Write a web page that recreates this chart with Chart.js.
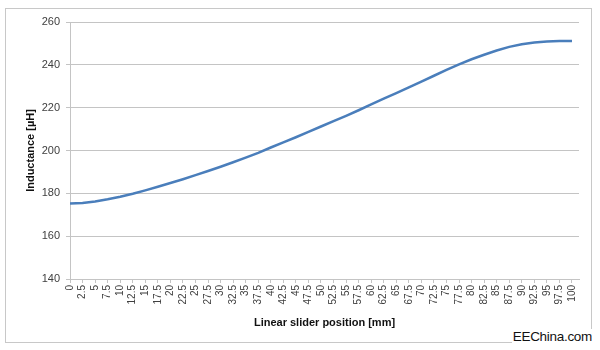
<!DOCTYPE html>
<html lang="en">
<head>
  <meta charset="UTF-8" />
  <title>Inductance vs slider position</title>
  <script src="https://cdn.jsdelivr.net/npm/chart.js"></script>
  <style>
    html, body { margin: 0; padding: 0; background: #fff; }
    #wrap { position: relative; width: 600px; height: 350px; }
    #frame {
      position: absolute; left: 5px; top: 8px; width: 587px; height: 335px;
      border: 1px solid #c8c8c8; box-sizing: border-box;
    }
    #mark {
      position: absolute; right: 7px; bottom: 6px;
      font-family: 'Liberation Sans', sans-serif; font-size: 13.5px; color: #111;
      background: #fff; padding: 0 1px; letter-spacing: -0.3px;
    }
  </style>
</head>
<body>
  <div id="wrap">
    <div id="frame"></div>
    <canvas id="chart" width="600" height="350"></canvas>
    <div id="mark">EEChina.com</div>
  </div>

  <script>
    const positions = [0, 2.5, 5, 7.5, 10, 12.5, 15, 17.5, 20, 22.5, 25, 27.5,
      30, 32.5, 35, 37.5, 40, 42.5, 45, 47.5, 50, 52.5, 55, 57.5, 60, 62.5,
      65, 67.5, 70, 72.5, 75, 77.5, 80, 82.5, 85, 87.5, 90, 92.5, 95, 97.5, 100];
    const inductance = [175.2, 175.5, 176.2, 177.2, 178.4, 179.8, 181.4, 183.1, 184.8, 186.6, 188.5, 190.4,
      192.4, 194.5, 196.7, 198.9, 201.4, 203.8, 206.2, 208.7, 211.2, 213.7, 216.2, 218.8, 221.5, 224.2,
      226.8, 229.5, 232.2, 234.9, 237.6, 240.2, 242.6, 244.7, 246.7, 248.4, 249.6, 250.4, 250.9, 251.1, 251.1];
    const yMin = 140, yMax = 260, yStep = 20;
    // plot area runs a little past the last position, like the original
    const xMin = 0, xMax = 101.4;

    const gridGray = '#c4c4c4';
    const textGray = '#404040';

    new Chart(document.getElementById('chart'), {
      type: 'line',
      data: {
        datasets: [{
          label: 'Inductance',
          data: positions.map((p, i) => ({ x: p, y: inductance[i] })),
          borderColor: '#4a7ebb',
          borderWidth: 2.5,
          pointRadius: 0,
          tension: 0,
          fill: false
        }]
      },
      options: {
        responsive: false,
        animation: false,
        layout: { padding: { left: 20, top: 22, right: 21, bottom: 16 } },
        plugins: {
          legend: { display: false },
          tooltip: { enabled: false }
        },
        scales: {
          x: {
            type: 'linear',
            min: xMin, max: xMax,
            grid: { drawOnChartArea: false, drawTicks: true, tickLength: 4, color: gridGray },
            border: { color: gridGray },
            ticks: {
              autoSkip: false, minRotation: 90, maxRotation: 90, padding: 2,
              color: textGray, font: { family: 'Liberation Sans', size: 10 },
              callback: v => String(v)
            },
            // one tick per measured position
            afterBuildTicks: s => { s.ticks = positions.map(p => ({ value: p })); },
            title: {
              display: true, text: 'Linear slider position [mm]', color: '#111',
              font: { family: 'Liberation Sans', size: 11, weight: 'bold' }
            },
            afterFit: s => { s.height = 55; }
          },
          y: {
            min: yMin, max: yMax,
            grid: { color: gridGray, tickLength: 4 },
            border: { color: gridGray },
            ticks: {
              stepSize: yStep, padding: 6,
              color: textGray, font: { family: 'Liberation Sans', size: 11 }
            },
            title: {
              display: true, text: 'Inductance [µH]', color: '#111',
              font: { family: 'Liberation Sans', size: 11, weight: 'bold' }
            },
            afterFit: s => { s.width = 50; }
          }
        }
      }
    });
  </script>
</body>
</html>
